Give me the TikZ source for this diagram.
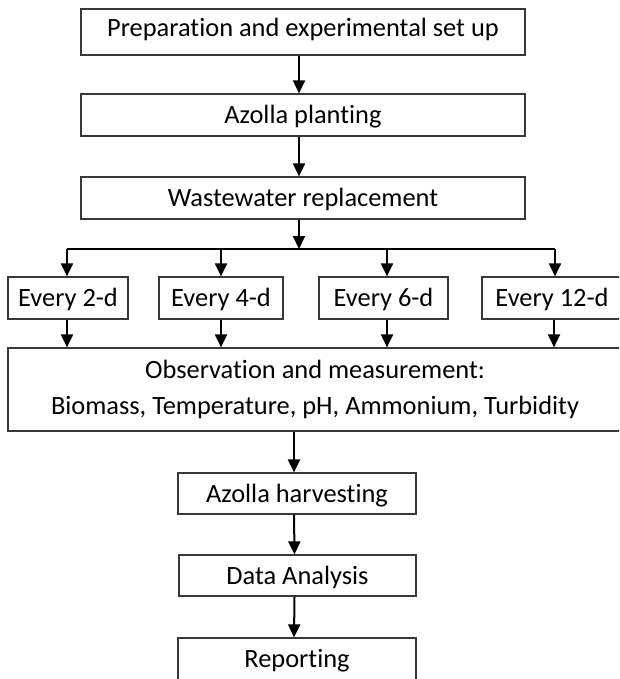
\documentclass[tikz,border=0pt]{standalone}
\usepackage{fontspec}
\setmainfont{Carlito}[Ligatures=NoCommon]
\usetikzlibrary{arrows.meta}
\tikzset{
  box/.style={draw=black!78, line width=1.2pt, fill=white, inner sep=0pt,
    font=\fontsize{26.4}{36.8}\selectfont, text height=17pt, text depth=0pt, align=center},
  arr/.style={line width=2pt, -{Triangle[width=12pt,length=13pt]}},
  busline/.style={line width=2pt}
}
\begin{document}
\begin{tikzpicture}[x=1pt,y=-1pt]
\path[use as bounding box] (0,0) rectangle (619,679);
\clip (0,0) rectangle (619,679);
\node[box, minimum width=444pt, minimum height=46pt, text depth=8pt] (b1) at (303,32) {Preparation and experimental set up};
\node[box, minimum width=444pt, minimum height=42pt] (b2) at (303,115) {Azolla planting};
\node[box, minimum width=444pt, minimum height=42pt] (b3) at (303,198) {Wastewater replacement};
\node[box, minimum width=120pt, minimum height=42pt] (e1) at (68,298) {Every 2-d};
\node[box, minimum width=124pt, minimum height=42pt] (e2) at (221,298) {Every 4-d};
\node[box, minimum width=129pt, minimum height=42pt] (e3) at (383.5,298) {Every 6-d};
\node[box, minimum width=140pt, minimum height=42pt] (e4) at (552,298) {Every 12-d};
\node[box, minimum width=614pt, minimum height=83pt, text height=, text depth=] (obs) at (315,389.5) {Observation and measurement:\\Biomass, Temperature, pH, Ammonium, Turbidity};
\node[box, minimum width=238pt, minimum height=41pt] (h) at (297,493.5) {Azolla harvesting};
\node[box, minimum width=237pt, minimum height=41pt] (da) at (297.5,575.5) {Data Analysis};
\node[box, minimum width=238pt, minimum height=42pt] (rep) at (297,659) {Reporting};
\coordinate (bus) at (299,249);
\coordinate (busL) at (67,249);
\coordinate (busR) at (555,249);
\draw[arr] ([xshift=-4pt]b1.south) -- ([xshift=-4pt]b2.north);
\draw[arr] ([xshift=-4pt]b2.south) -- ([xshift=-4pt]b3.north);
\draw[arr] ([xshift=-4pt]b3.south) -- (bus);
\draw[busline] (busL) -- (busR);
\draw[arr] (busL) -- (busL |- e1.north);
\draw[arr] (e2.north |- bus) -- (e2.north);
\draw[arr] ([xshift=3.5pt]e3.north |- bus) -- ([xshift=3.5pt]e3.north);
\draw[arr] (busR) -- (busR |- e4.north);
\draw[arr] ([xshift=-1pt]e1.south) -- ([xshift=-1pt]e1.south |- obs.north);
\draw[arr] (e2.south) -- (e2.south |- obs.north);
\draw[arr] ([xshift=3.5pt]e3.south) -- ([xshift=3.5pt]e3.south |- obs.north);
\draw[arr] ([xshift=2pt]e4.south) -- ([xshift=2pt]e4.south |- obs.north);
\draw[arr] ([xshift=-3pt]obs.south -| h.north) -- ([xshift=-3pt]h.north);
\draw[arr] ([xshift=-3pt]h.south) -- ([xshift=-3pt]da.north);
\draw[arr] ([xshift=-3pt]da.south) -- ([xshift=-3pt]rep.north);
\end{tikzpicture}
\end{document}
